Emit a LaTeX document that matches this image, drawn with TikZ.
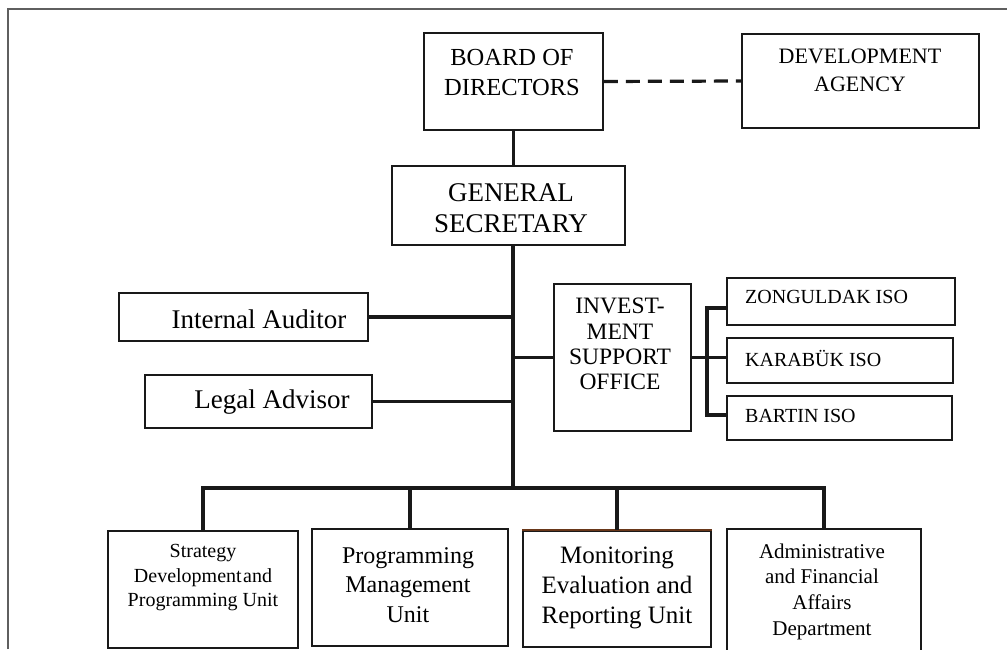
\documentclass[tikz,border=0pt]{standalone}
\usepackage{fontspec}
\setmainfont{Liberation Serif}
\definecolor{framegray}{RGB}{95,95,95}
\definecolor{inkline}{RGB}{25,25,25}
\definecolor{topbrown}{RGB}{105,55,25}
\tikzset{
  box/.style={draw=inkline, line width=1.8pt, rectangle, inner sep=0pt},
  conn/.style={draw=inkline, line width=3.2pt},
  dashconn/.style={draw=inkline, line width=3.2pt, dash pattern=on 14pt off 8pt},
  txt/.style={inner sep=0pt, align=center, text=black},
  ltxt/.style={inner sep=0pt, anchor=west, text=black},
}
\newcommand{\fs}[2]{\fontsize{#1}{#2}\selectfont}
\begin{document}
\begin{tikzpicture}[x=1pt,y=-1pt]
\useasboundingbox (0,0) rectangle (1007,649);
\clip (0,0) rectangle (1007,649);
\fill[white] (0,0) rectangle (1007,649);
% frame
\draw[framegray, line width=2.5pt] (8,649) -- (8,9) -- (1007,9);

% top level
\node[box, minimum width=179pt, minimum height=97pt] (board) at (513.5,81.5) {};
\node[txt, font=\fs{24.5}{30}] (boardT) at (512,73) {BOARD OF\\DIRECTORS};
\node[box, minimum width=237pt, minimum height=94pt] (dev) at (860.5,81) {};
\node[txt, font=\fs{22}{28}] (devT) at (860,70) {DEVELOPMENT\\AGENCY};
\node[box, minimum width=233pt, minimum height=79pt] (gs) at (508.5,205.5) {};
\node[txt, font=\fs{27}{31}] (gsT) at (511,208.5) {GENERAL\\SECRETARY};

% staff
\node[box, minimum width=249pt, minimum height=48pt] (ia) at (243.5,317) {};
\node[txt, font=\fs{27}{32}] (iaT) at (259,319) {Internal Auditor};
\node[box, minimum width=227pt, minimum height=53pt] (la) at (258.5,401.5) {};
\node[txt, font=\fs{27}{32}] (laT) at (272,402) {Legal Advisor};

% investment support office
\node[box, minimum width=137pt, minimum height=147pt] (inv) at (622.5,357.5) {};
\node[txt, font=\fs{23.5}{25.3}] (invT) at (620,344) {INVEST-\\MENT\\SUPPORT\\OFFICE};
\node[box, minimum width=228pt, minimum height=47pt] (zon) at (841,301.5) {};
\node[ltxt, font=\fs{20}{23}] (zonT) at (745,297) {ZONGULDAK ISO};
\node[box, minimum width=226pt, minimum height=45pt] (kar) at (840,360.5) {};
\node[ltxt, font=\fs{20}{23}] (karT) at (745,358) {KARABÜK ISO};
\node[box, minimum width=225pt, minimum height=44pt] (bar) at (839.5,418) {};
\node[ltxt, font=\fs{20}{23}] (barT) at (745,416) {BARTIN ISO};

% units
\node[box, minimum width=190pt, minimum height=117pt] (strat) at (203,589.5) {};
\node[txt, font=\fs{20}{24.5}] (stratT) at (203,578) {Strategy\\Development\kern1.5pt and\\Programming Unit};
\node[box, minimum width=196pt, minimum height=117pt] (prog) at (410,587.5) {};
\node[txt, font=\fs{24}{29.5}] (progT) at (408,585) {Programming\\Management\\Unit};
\node[box, minimum width=188pt, minimum height=116pt] (mon) at (617,589) {};
\node[txt, font=\fs{25}{30}] (monT) at (617,588) {Monitoring\\Evaluation and\\Reporting Unit};
\node[box, minimum width=194pt, minimum height=131pt] (adm) at (824,594.5) {};
\node[txt, font=\fs{21}{25.7}] (admT) at (822,591.5) {Administrative\\and Financial\\Affairs\\Department};
\draw[topbrown, line width=1.8pt] (mon.north west) -- (mon.north east);

% helper coordinates
\coordinate (trunk) at (513,245);
\coordinate (bus) at (513,488);
\coordinate (bz) at (707,308);
\coordinate (bb) at (707,415);

% connectors
\draw[dashconn] (board.east) -- (dev.west);
\draw[conn] (board.south) -- (board.south |- gs.north);
\draw[conn] (trunk) -- (bus);
\draw[conn] (ia.east) -- (ia.east -| trunk);
\draw[conn] (la.east) -- (la.east -| trunk);
\draw[conn] (inv.west -| trunk) -- (inv.west);
\draw[conn] (inv.east) -- (inv.east -| kar.west);
\draw[conn] (bz -| zon.west) -- (bz) -- (bb) -- (bb -| bar.west);
\draw[conn] (strat.north) -- (strat.north |- bus) -- (adm.north |- bus) -- (adm.north);
\draw[conn] (prog.north) -- (prog.north |- bus);
\draw[conn] (mon.north) -- (mon.north |- bus);
\end{tikzpicture}
\end{document}
